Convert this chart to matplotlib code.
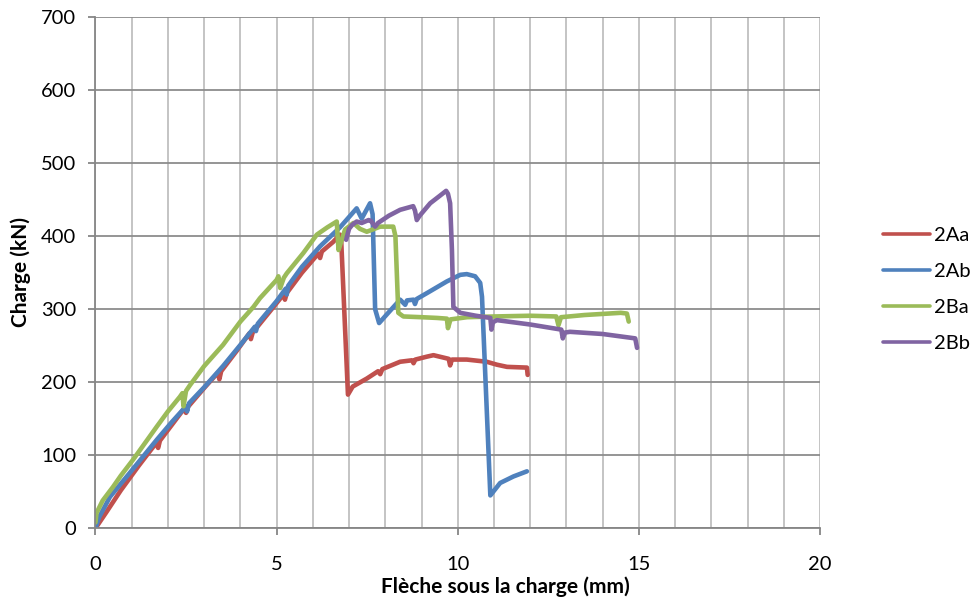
"""
Load-deflection curves for beams 2Aa, 2Ab, 2Ba and 2Bb.
"""

import matplotlib

matplotlib.use("Agg")
import matplotlib.pyplot as plt
from matplotlib.ticker import MultipleLocator

plt.rcParams["font.family"] = ["Lato", "DejaVu Sans"]

# Deflection under the load (mm) and applied load (kN) for each specimen
x_2aa = [0.0, 0.3, 0.7, 1.2, 1.68, 1.73, 1.78, 2.1, 2.45, 2.5, 2.55, 3.0, 3.38, 3.42,
         3.47, 3.9, 4.25, 4.29, 4.34, 4.8, 5.19, 5.23, 5.28, 5.7, 6.15, 6.2, 6.25,
         6.56, 6.75, 6.78, 6.97, 7.1, 7.49, 7.8, 7.86, 7.92, 8.41, 8.74, 8.78, 8.83,
         9.15, 9.33, 9.75, 9.79, 9.84, 10.25, 10.8, 11.08, 11.36, 11.91, 11.93]
y_2aa = [0, 22, 52, 86, 117, 110, 120, 141, 164, 158, 166, 192, 213, 204, 215, 243,
         267, 259, 268, 296, 320, 313, 322, 350, 376, 370, 379, 392, 402, 398, 183,
         194, 205, 215, 211, 218, 228, 230, 226, 231, 235, 237, 232, 223, 231, 231,
         228, 224, 221, 220, 210]

x_2ab = [0.0, 0.1, 0.4, 0.95, 1.69, 2.1, 2.5, 2.53, 2.58, 3.0, 3.52, 4.0, 4.4, 4.43,
         4.48, 5.0, 5.25, 5.28, 5.32, 5.7, 6.2, 6.75, 7.21, 7.35, 7.58, 7.65, 7.72,
         7.83, 8.1, 8.41, 8.55, 8.6, 8.78, 8.82, 8.87, 9.15, 9.7, 10.07, 10.25, 10.48,
         10.62, 10.67, 10.9, 11.17, 11.54, 11.91]
y_2ab = [0, 15, 43, 76, 121, 145, 167, 160, 171, 193, 222, 251, 276, 270, 280, 311,
         328, 320, 332, 358, 386, 412, 438, 424, 445, 430, 300, 281, 296, 313, 306,
         312, 313, 307, 314, 322, 338, 347, 348, 345, 336, 317, 45, 62, 71, 78]

x_2ba = [0.0, 0.03, 0.2, 0.49, 0.7, 1.04, 1.69, 2.0, 2.33, 2.4, 2.43, 2.5, 2.61, 3.0,
         3.52, 4.0, 4.36, 4.54, 5.0, 5.05, 5.1, 5.2, 5.28, 5.74, 6.11, 6.4, 6.66,
         6.71, 6.8, 6.89, 7.12, 7.3, 7.49, 7.86, 8.22, 8.28, 8.36, 8.5, 9.0, 9.43,
         9.7, 9.73, 9.8, 10.26, 11.0, 12.0, 12.72, 12.78, 12.85, 13.5, 14.5, 14.67,
         14.72]
y_2ba = [8, 21, 38, 57, 72, 94, 139, 160, 180, 185, 167, 188, 196, 222, 251, 283,
         303, 315, 340, 345, 329, 343, 349, 377, 402, 412, 420, 381, 395, 409, 418,
         410, 406, 413, 413, 400, 295, 290, 289, 288, 287, 274, 286, 289, 290, 291,
         290, 278, 289, 292, 295, 294, 283]

x_2bb = [6.92, 7.0, 7.08, 7.21, 7.35, 7.54, 7.6, 7.72, 7.8, 8.1, 8.41, 8.77, 8.82,
         8.87, 8.95, 9.24, 9.5, 9.68, 9.73, 9.79, 9.84, 9.88, 10.07, 10.5, 10.9,
         10.93, 10.97, 11.08, 12.0, 12.86, 12.9, 12.96, 13.1, 14.0, 14.9, 14.95]
y_2bb = [395, 410, 415, 420, 418, 422, 421, 413, 418, 428, 436, 441, 435, 422, 428,
         445, 455, 462, 458, 445, 381, 303, 295, 291, 288, 272, 282, 285, 279, 272,
         260, 268, 269, 266, 260, 247]

series = [
    ("2Aa", x_2aa, y_2aa, "#C0504D"),
    ("2Ab", x_2ab, y_2ab, "#4F81BD"),
    ("2Ba", x_2ba, y_2ba, "#9BBB59"),
    ("2Bb", x_2bb, y_2bb, "#8064A2"),
]

fig = plt.figure(figsize=(9.71, 6.03), dpi=100)
ax = fig.add_axes([0.0983, 0.1239, 0.7462, 0.8479])

for label, xs, ys, color in series:
    ax.plot(xs, ys, color=color, linewidth=3.3, label=label,
            solid_joinstyle="round", solid_capstyle="round")

ax.set_xlim(0, 20)
ax.set_ylim(0, 700)
ax.xaxis.set_major_locator(MultipleLocator(5))
ax.xaxis.set_minor_locator(MultipleLocator(1))
ax.yaxis.set_major_locator(MultipleLocator(100))

ax.grid(which="minor", axis="x", color="#BFBFBF", linewidth=1.3)
ax.grid(which="major", axis="x", color="#BFBFBF", linewidth=1.3)
ax.grid(which="major", axis="y", color="#8C8C8C", linewidth=1.3)
ax.set_axisbelow(True)

for side in ("top", "right"):
    ax.spines[side].set_visible(False)
for side in ("left", "bottom"):
    ax.spines[side].set_color("#868686")
    ax.spines[side].set_linewidth(1.3)

ax.tick_params(axis="x", which="major", direction="out", length=5, width=1.3,
               color="#868686", labelsize=14.5, pad=15)
ax.tick_params(axis="x", which="minor", length=0)
ax.tick_params(axis="y", direction="out", length=5, width=1.3, color="#868686",
               labelsize=14.5, pad=9)

fig.text(505 / 971, 1 - 587 / 603, "Flèche sous la charge (mm)", ha="center",
         va="center", fontsize=15, fontweight="bold")
fig.text(21 / 971, 1 - 272 / 603, "Charge (kN)", ha="center", va="center",
         rotation=90, fontsize=15, fontweight="bold")

leg = ax.legend(loc="center left", bbox_to_anchor=(883 / 971, 1 - 289.5 / 603),
                bbox_transform=fig.transFigure, frameon=False, fontsize=14.5,
                borderaxespad=0, borderpad=0, handlelength=2.35,
                handletextpad=0.2, labelspacing=0.95)
for line in leg.get_lines():
    line.set_linewidth(2.6)

fig.savefig("out.png", dpi=100)
